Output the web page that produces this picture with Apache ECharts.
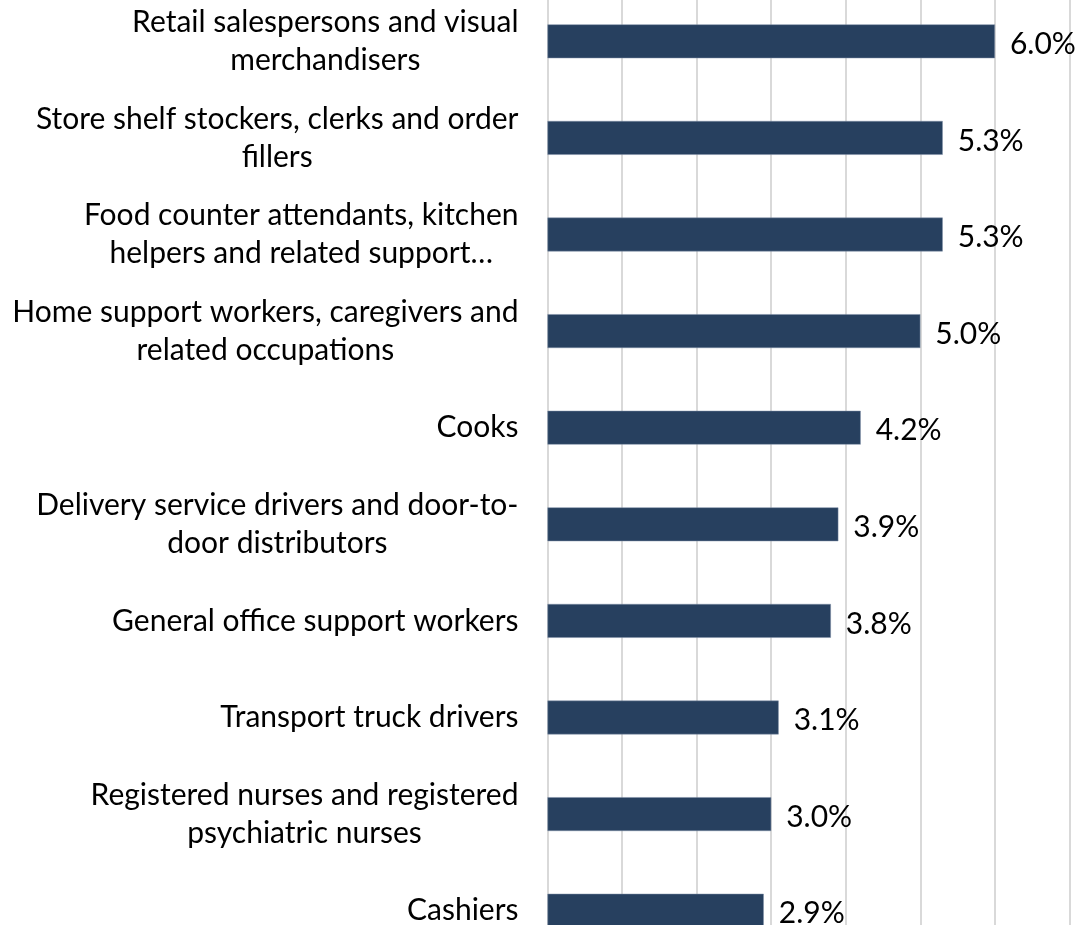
<!DOCTYPE html>
<html>
<head>
<meta charset="utf-8">
<script src="https://cdn.jsdelivr.net/npm/echarts@6/dist/echarts.min.js"></script>
<style>
html,body{margin:0;padding:0;background:#fff;}
#chart{width:1091px;height:925px;}
</style>
</head>
<body>
<div id="chart"></div>
<script>
const categories = [
  "Retail salespersons and visual\nmerchandisers",
  "Store shelf stockers, clerks and order\nfillers",
  "Food counter attendants, kitchen\nhelpers and related support…",
  "Home support workers, caregivers and\nrelated occupations",
  "Cooks",
  "Delivery service drivers and door-to-\ndoor distributors",
  "General office support workers",
  "Transport truck drivers",
  "Registered nurses and registered\npsychiatric nurses",
  "Cashiers"
];
const values = [6.0, 5.3, 5.3, 5.0, 4.2, 3.9, 3.8, 3.1, 3.0, 2.9];
const axisMin = 0, axisMax = 7, axisInterval = 1;

const chart = echarts.init(document.getElementById('chart'), null, {renderer: 'canvas'});
const FONT = 'Lato';
chart.setOption({
  animation: false,
  backgroundColor: '#ffffff',
  grid: {left: 547.5, width: 522, top: -7, height: 966, containLabel: false, outerBoundsMode: 'none'},
  xAxis: {
    type: 'value', min: axisMin, max: axisMax, interval: axisInterval,
    axisLabel: {show: false}, axisLine: {show: false}, axisTick: {show: false},
    splitLine: {show: true, lineStyle: {color: '#d9d9d9', width: 2}}
  },
  yAxis: {
    type: 'category', data: categories, inverse: true,
    axisLine: {show: true, lineStyle: {color: '#d9d9d9', width: 2}},
    axisTick: {show: false},
    axisLabel: {
      margin: 29, align: 'right',
      formatter: v => '{c|' + v.split('\n').join('}\n{c|') + '}',
      rich: {c: {align: 'center', fontFamily: FONT, fontSize: 30, lineHeight: 38, color: '#000'}}
    }
  },
  series: [{
    type: 'bar', data: values, barWidth: '35%',
    itemStyle: {color: '#27405f', borderColor: '#7f8fa6', borderWidth: 0.5},
    label: {
      show: true, position: 'right', distance: 15, offset: [0, 3],
      formatter: p => p.value.toFixed(1) + '%',
      fontFamily: FONT, fontSize: 30, color: '#000'
    }
  }]
});
</script>
</body>
</html>
